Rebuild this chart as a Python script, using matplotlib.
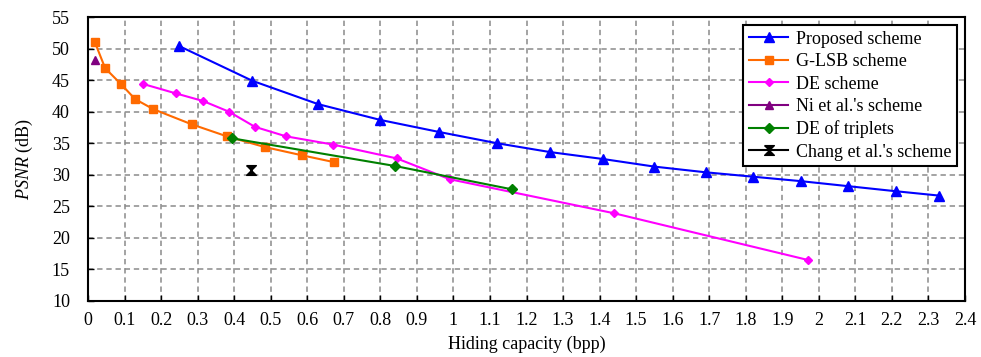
import matplotlib
matplotlib.use("Agg")
import matplotlib.pyplot as plt
import numpy as np
from matplotlib.ticker import MultipleLocator, FuncFormatter

# Data
prop_x = [0.25, 0.45, 0.63, 0.80, 0.96, 1.12, 1.265, 1.41, 1.55, 1.69, 1.82, 1.95, 2.08, 2.21, 2.33]
prop_y = [50.4, 44.9, 41.2, 38.7, 36.8, 35.0, 33.6, 32.5, 31.3, 30.4, 29.7, 29.0, 28.2, 27.4, 26.7]

glsb_x = [0.019, 0.047, 0.09, 0.129, 0.179, 0.284, 0.38, 0.484, 0.585, 0.674]
glsb_y = [51.0, 46.9, 44.4, 42.0, 40.4, 38.0, 36.1, 34.4, 33.1, 32.0]

de_x = [0.151, 0.241, 0.315, 0.386, 0.457, 0.542, 0.67, 0.845, 0.99, 1.44, 1.97]
de_y = [44.4, 42.9, 41.7, 40.0, 37.6, 36.1, 34.8, 32.6, 29.3, 23.9, 16.5]

ni_x = [0.019]
ni_y = [48.2]

trip_x = [0.393, 0.84, 1.16]
trip_y = [35.8, 31.4, 27.7]

chang_x = [0.445]
chang_y = [30.75]

plt.rcParams['font.family'] = ['Liberation Serif', 'DejaVu Serif']
plt.rcParams['mathtext.fontset'] = 'custom'
plt.rcParams['mathtext.rm'] = 'Liberation Serif'
plt.rcParams['mathtext.it'] = 'Liberation Serif:italic'

fig = plt.figure(figsize=(9.81, 3.57), dpi=100)
ax = fig.add_axes([0.0897, 0.157, 0.8940, 0.795])

hourglass = [(-1, 1), (1, 1), (-1, -1), (1, -1), (-1, 1)]

ax.plot(prop_x, prop_y, color='#0000ff', marker='^', markersize=7, lw=1.5, label='Proposed scheme', zorder=5)
ax.plot(glsb_x, glsb_y, color='#ff6a00', marker='s', markersize=6, lw=1.5, label='G-LSB scheme', zorder=4)
ax.plot(de_x, de_y, color='#ff00ff', marker='D', markersize=4.5, lw=1.5, label='DE scheme', zorder=3)
ax.plot(ni_x, ni_y, color='#800080', marker='^', markersize=6, lw=1.5, markerfacecolor='#800080',
        label="Ni et al.'s scheme", zorder=6)
ax.plot(trip_x, trip_y, color='#008000', marker='D', markersize=5, lw=1.5, label='DE of triplets', zorder=4)
ax.plot(chang_x, chang_y, color='black', marker=hourglass, markersize=7, lw=1.5,
        label="Chang et al.'s scheme", zorder=6)

ax.set_xlim(0, 2.4)
ax.set_ylim(10, 55)
ax.xaxis.set_major_locator(MultipleLocator(0.1))
ax.yaxis.set_major_locator(MultipleLocator(5))
ax.xaxis.set_major_formatter(FuncFormatter(lambda v, p: ('%.1f' % v).rstrip('0').rstrip('.') if abs(v) > 1e-9 else '0'))
ax.grid(True, color='#8a8a8a', linestyle=(0, (3.5, 2.5)), lw=1.1)
ax.tick_params(direction='in', length=4, width=1, labelsize=13, pad=8)
ax.tick_params(axis='y', pad=13)
for s in ax.spines.values():
    s.set_linewidth(1.5)
    s.set_color('black')

ax.set_xlabel('Hiding capacity (bpp)', fontsize=13, labelpad=5)
ax.set_ylabel(r'$\it{PSNR}$ (dB)', fontsize=13, labelpad=12)

leg = ax.legend(loc='upper right', bbox_to_anchor=(0.9966, 0.99), fontsize=13, frameon=True, fancybox=False,
                edgecolor='black', framealpha=1, borderpad=0.3, labelspacing=0.3, handlelength=2.2,
                handletextpad=0.4, borderaxespad=0.3)
leg.get_frame().set_linewidth(1.5)

fig.savefig('out.png', dpi=100)
